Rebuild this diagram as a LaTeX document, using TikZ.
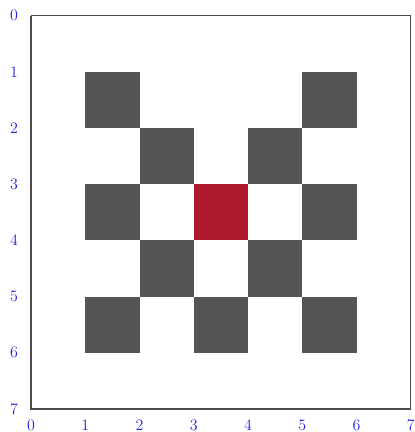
\documentclass[tikz,border=0pt]{standalone}
\usepackage{tikz}
\usetikzlibrary{positioning}
\definecolor{cellgray}{RGB}{85,85,85}
\definecolor{cellred}{RGB}{176,26,46}
\definecolor{ticktext}{RGB}{35,35,225}

\begin{document}
\begin{tikzpicture}[
  x=40.7pt, y=-42.15pt,
  font=\large,
  cell/.style={fill=cellgray, draw=none},
  hot/.style={fill=cellred, draw=none},
  frame/.style={draw=black!70, line width=0.8pt},
  axis/.style={draw=black!70, line width=1.3pt},
  tick/.style={text=ticktext, inner sep=0pt},
]
\useasboundingbox (-0.571,-0.276) rectangle (7.072,7.411);

% ---- plate ----
\path[frame] (0,7) -- (7,7) -- (7,0) -- (0,0);
\node[coordinate] (o) at (0,7) {};
\node[coordinate] (ytop) at (0,0) {};
\node[coordinate] (xend) at (7,7) {};
\draw[axis] (ytop) -- (o) -- (xend);

% ---- cells ----
\foreach \c/\r in {1/1,5/1,2/2,4/2,1/3,5/3,2/4,4/4,1/5,3/5,5/5}
  \fill[cell] (\c,\r) rectangle ++(1,1);
\fill[hot] (3,3) rectangle (4,4);

% ---- tick labels ----
\foreach \i in {0,...,7} {
  \node[tick] (yl\i) at (-0.313,\i) {\i};
  \node[tick] (xl\i) at (\i,7.287) {\i};
}
\end{tikzpicture}
\end{document}
